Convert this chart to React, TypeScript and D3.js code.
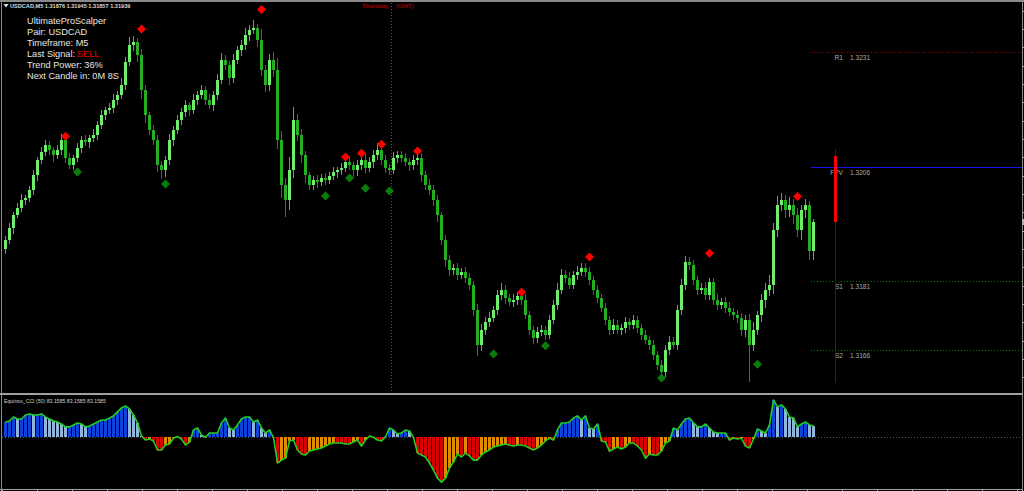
import React from 'react';
import * as d3 from 'd3';

const W = 1024;
const H = 491;

const headerText = 'USDCAD,M5  1.31876 1.31945 1.31857 1.31939';
const infoLines = ['UltimateProScalper', 'Pair: USDCAD', 'Timeframe: M5', 'Last Signal:', 'Trend Power: 36%', 'Next Candle in: 0M 8S'];
const lastSignal = 'SELL';
const dayLabel = 'Thursday';
const tzLabel = '(GMT)';
const cciLabel = 'Equinox_CCI (50) 83.1585 83.1585 83.1585';

const firstOpen = 1.3188;
const closes = [
  1.31900, 1.31926, 1.31954, 1.31970, 1.31987, 1.31991, 1.32009, 1.32041, 1.32074, 1.32092,
  1.32107, 1.32096, 1.32085, 1.32096, 1.32118, 1.32079, 1.32063, 1.32079, 1.32100, 1.32118,
  1.32113, 1.32122, 1.32129, 1.32150, 1.32172, 1.32183, 1.32188, 1.32205, 1.32216, 1.32238,
  1.32288, 1.32325, 1.32331, 1.32303, 1.32227, 1.32172, 1.32140, 1.32118, 1.32063, 1.32052,
  1.32074, 1.32118, 1.32140, 1.32161, 1.32179, 1.32194, 1.32183, 1.32205, 1.32216, 1.32227,
  1.32205, 1.32194, 1.32216, 1.32249, 1.32292, 1.32281, 1.32253, 1.32292, 1.32314, 1.32325,
  1.32347, 1.32358, 1.32362, 1.32336, 1.32270, 1.32238, 1.32292, 1.32270, 1.32118, 1.32020,
  1.31987, 1.32052, 1.32161, 1.32129, 1.32085, 1.32041, 1.32020, 1.32031, 1.32026, 1.32035,
  1.32031, 1.32039, 1.32048, 1.32052, 1.32057, 1.32070, 1.32063, 1.32052, 1.32063, 1.32074,
  1.32057, 1.32070, 1.32085, 1.32096, 1.32074, 1.32057, 1.32052, 1.32079, 1.32085, 1.32079,
  1.32070, 1.32063, 1.32074, 1.32079, 1.32041, 1.32020, 1.32009, 1.31987, 1.31954, 1.31900,
  1.31856, 1.31834, 1.31839, 1.31824, 1.31830, 1.31817, 1.31802, 1.31747, 1.31671, 1.31704,
  1.31721, 1.31730, 1.31747, 1.31780, 1.31791, 1.31773, 1.31765, 1.31769, 1.31778, 1.31769,
  1.31736, 1.31704, 1.31686, 1.31699, 1.31704, 1.31693, 1.31725, 1.31758, 1.31791, 1.31824,
  1.31817, 1.31802, 1.31824, 1.31830, 1.31839, 1.31830, 1.31813, 1.31791, 1.31773, 1.31752,
  1.31725, 1.31704, 1.31715, 1.31704, 1.31708, 1.31721, 1.31715, 1.31725, 1.31708, 1.31693,
  1.31682, 1.31671, 1.31649, 1.31627, 1.31612, 1.31660, 1.31677, 1.31671, 1.31747, 1.31802,
  1.31852, 1.31845, 1.31813, 1.31791, 1.31795, 1.31780, 1.31808, 1.31769, 1.31758, 1.31765,
  1.31752, 1.31743, 1.31736, 1.31730, 1.31704, 1.31725, 1.31671, 1.31704, 1.31736, 1.31769,
  1.31791, 1.31802, 1.31922, 1.31976, 1.31987, 1.31965, 1.31976, 1.31954, 1.31922, 1.31965,
  1.31976, 1.31876, 1.31939,
];

// wick lengths in points (0.00001)
const wickUp = [
  8, 12, 6, 10, 14, 7, 9, 12, 8, 10,
  12, 9, 6, 11, 14, 8, 10, 7, 12, 9,
  11, 7, 13, 9, 12, 8, 10, 14, 9, 16,
  12, 18, 15, 10, 14, 12, 8, 10, 12, 9,
  10, 14, 8, 12, 9, 11, 8, 13, 10, 12,
  9, 14, 10, 12, 16, 11, 9, 14, 10, 12,
  15, 12, 18, 10, 24, 12, 14, 18, 28, 20,
  16, 30, 28, 14, 12, 10, 8, 9, 11, 8,
  10, 9, 12, 8, 11, 14, 10, 9, 12, 11,
  14, 10, 12, 16, 9, 11, 8, 12, 10, 8,
  11, 9, 12, 8, 10, 9, 12, 10, 11, 8,
  10, 12, 9, 11, 8, 12, 10, 9, 14, 12,
  10, 12, 9, 11, 14, 10, 8, 12, 9, 11,
  12, 9, 8, 11, 10, 9, 12, 10, 14, 12,
  10, 12, 9, 14, 11, 10, 12, 9, 10, 8,
  11, 9, 12, 10, 8, 11, 9, 12, 10, 9,
  10, 8, 11, 9, 12, 10, 14, 12, 10, 12,
  14, 10, 12, 9, 11, 14, 10, 9, 12, 8,
  10, 12, 9, 11, 10, 12, 14, 18, 10, 12,
  16, 22, 14, 20, 16, 12, 18, 14, 16, 12,
  14, 10, 6,
];
const wickDn = [
  10, 8, 12, 7, 9, 11, 8, 10, 12, 9,
  8, 11, 14, 9, 10, 12, 9, 11, 8, 10,
  9, 12, 8, 10, 9, 11, 8, 12, 10, 9,
  11, 9, 12, 14, 20, 16, 12, 10, 15, 20,
  14, 10, 12, 9, 11, 10, 12, 9, 10, 8,
  11, 9, 12, 10, 8, 11, 14, 10, 9, 12,
  10, 12, 9, 14, 12, 16, 12, 14, 20, 28,
  37, 22, 16, 14, 18, 16, 12, 10, 12, 9,
  11, 10, 9, 12, 10, 8, 11, 14, 12, 10,
  12, 9, 14, 10, 11, 12, 10, 9, 12, 10,
  9, 12, 10, 11, 14, 12, 10, 12, 14, 12,
  14, 12, 10, 12, 9, 11, 12, 14, 25, 14,
  12, 10, 9, 11, 10, 12, 9, 11, 10, 12,
  9, 11, 12, 10, 9, 12, 10, 9, 11, 10,
  12, 9, 10, 12, 9, 10, 11, 12, 10, 9,
  11, 12, 10, 9, 11, 10, 12, 9, 11, 12,
  10, 12, 11, 10, 6, 12, 10, 9, 11, 10,
  12, 10, 11, 12, 9, 10, 12, 10, 11, 9,
  12, 10, 11, 12, 14, 16, 80, 14, 12, 16,
  18, 14, 20, 16, 12, 18, 14, 20, 16, 22,
  18, 20, 19,
];

const cci = [
  113, 121, 151, 136, 136, 166, 174, 166, 166, 174,
  151, 136, 121, 113, 98, 76, 76, 91, 106, 98,
  76, 83, 98, 113, 128, 128, 143, 159, 189, 219,
  234, 211, 166, 106, 8, -23, -15, -30, -98, -98,
  -60, -53, -8, 3, -15, -60, -38, 53, 68, 15,
  -2, 30, 30, 30, 106, 143, 68, 53, 91, 136,
  151, 151, 113, 128, 68, 30, 53, -4, -196, -174,
  -159, -30, -23, -98, -128, -136, -106, -98, -91, -83,
  -68, -53, -45, -45, -45, -53, -53, -38, -23, -68,
  -23, 8, -2, -23, -30, 2, 68, 53, 23, 30,
  53, 45, -3, -121, -136, -151, -196, -249, -310, -340,
  -310, -234, -189, -128, -151, -121, -143, -174, -174, -136,
  -113, -98, -76, -68, -60, -53, -60, -68, -60, -60,
  -68, -83, -98, -83, -60, -30, -8, -23, 53, 106,
  106, 113, 143, 159, 128, 159, 68, 60, 98, -30,
  -38, -106, -91, -76, -91, -76, -45, -45, -68, -98,
  -159, -128, -136, -136, -106, -45, -30, 68, 53, 98,
  136, 143, 106, 76, 76, 98, 68, 38, 30, 30,
  30, -23, -8, -15, -8, -68, -83, -15, 60, 45,
  30, 91, 279, 227, 242, 211, 151, 143, 76, 98,
  113, 91, 83.1585,
];

const sellIdx = [15, 34, 64, 85, 89, 94, 103, 129, 146, 176, 198];
const sellPrice = [1.32126, 1.3236, 1.32403, 1.32081, 1.32089, 1.32109, 1.32094, 1.31786, 1.31863, 1.31871, 1.31995];
const buyIdx = [18, 40, 80, 86, 90, 96, 122, 135, 164, 188];
const buyPrice = [1.32048, 1.32022, 1.31996, 1.32035, 1.32013, 1.32007, 1.31651, 1.31669, 1.31599, 1.31629];

const pivotNames = ['R1', 'FPV', 'S1', 'S2'];
const pivotValues = [1.3231, 1.3206, 1.3181, 1.3166];
const dailyOHLC = [1.32083, 1.32098, 1.31588, 1.31939];
const dayBreakIndex = 96.5;

const FONT = '"Liberation Sans", Arial, sans-serif';

export default function App() {
  const n = closes.length;
  const x = d3.scaleLinear().domain([0, n - 1]).range([5, 813]);
  const y = d3.scaleLinear().domain([1.31566, 1.32417]).range([393, 3]);
  const yc = d3.scaleLinear().domain([-392, 309]).range([489, 396]);

  const candles = closes.map((c, i) => {
    const o = i === 0 ? firstOpen : closes[i - 1];
    const hi = Math.max(o, c) + (wickUp[i] ?? 8) * 1e-5;
    const lo = Math.min(o, c) - (wickDn[i] ?? 8) * 1e-5;
    return { i, o, c, hi, lo, bull: c >= o };
  });

  const xi = (i: number) => Math.round(x(i));
  const zeroY = yc(0);
  const cciLine = d3.line<number>().x((_, i) => xi(i) + 0.5).y((v) => yc(v)).curve(d3.curveLinear);

  const histColor = (v: number, i: number) => {
    const p = i > 0 ? cci[i - 1] : v;
    if (v >= 0) return v >= p ? '#0d43d9' : '#8fb6da';
    return v <= p ? '#d80000' : '#e08c00';
  };

  const pivotStart = Math.round(x(n - 1)) - 2;
  const rightEdge = 1022;
  const pivotStyle = (name: string) => {
    if (name === 'R1') return { color: '#9a0000', dotted: true };
    if (name === 'FPV') return { color: '#1515e8', dotted: false };
    return { color: '#008000', dotted: true };
  };

  const priceTicks = d3.range(1.316, 1.3242, 0.0004);
  const timeTicks = d3.range(2, rightEdge, 35);
  const dx = 835;
  const sepX = Math.round(x(dayBreakIndex));

  const diamond = (cx: number, cy: number, r: number) =>
    `M${cx},${cy - r}L${cx + r},${cy}L${cx},${cy + r}L${cx - r},${cy}Z`;

  return (
    <svg width={W} height={H} style={{ position: 'absolute', left: 0, top: 0, display: 'block', background: '#000' }}>
      <rect x={0} y={0} width={W} height={H} fill="#000" />

      {/* frame */}
      <rect x={0} y={0} width={1024} height={2} fill="#8a8a8a" />
      <rect x={1} y={2} width={1} height={489} fill="#8a8a8a" />
      <rect x={rightEdge} y={2} width={1} height={489} fill="#8a8a8a" />
      <rect x={0} y={393} width={rightEdge} height={2} fill="#a0a0a0" />
      <rect x={0} y={489} width={rightEdge} height={1} fill="#a0a0a0" />
      {timeTicks.map((t) => (
        <rect key={'tt' + t} x={t} y={489} width={1} height={2} fill="#a0a0a0" />
      ))}
      {priceTicks.map((p) => (
        <rect key={'pt' + p} x={rightEdge} y={Math.round(y(p))} width={2} height={1} fill="#a0a0a0" />
      ))}
      <rect x={rightEdge} y={Math.round(y(closes[n - 1])) - 3} width={2} height={6} fill="#b0b0b0" />

      {/* day separator */}
      <line x1={sepX + 0.5} y1={3} x2={sepX + 0.5} y2={393} stroke="#5e5e2c" strokeDasharray="1,2" />
      <text x={sepX - 3} y={8} fill="#d00000" fontSize={6.2} fontFamily={FONT} textAnchor="end">{dayLabel}</text>
      <text x={sepX + 5} y={8} fill="#d00000" fontSize={6.2} fontFamily={FONT}>{tzLabel}</text>

      {/* pivot lines */}
      {pivotNames.map((name, k) => {
        const st = pivotStyle(name);
        const py = Math.round(y(pivotValues[k]));
        return (
          <g key={name}>
            {st.dotted ? (
              d3.range(pivotStart, rightEdge, 3).map((px) => (
                <rect key={name + px} x={px} y={py} width={1} height={1} fill={st.color} />
              ))
            ) : (
              <rect x={pivotStart} y={py} width={rightEdge - pivotStart} height={1} fill={st.color} />
            )}
            <text x={843} y={py + 7.5} fill="#a8a8a8" fontSize={6.6} fontFamily={FONT} textAnchor="end">{name}</text>
            <text x={850} y={py + 7.5} fill="#a8a8a8" fontSize={6.6} fontFamily={FONT}>{pivotValues[k].toFixed(4)}</text>
          </g>
        );
      })}

      {/* daily candle */}
      <rect x={dx} y={Math.round(y(dailyOHLC[1]))} width={1} height={Math.round(y(dailyOHLC[2]) - y(dailyOHLC[1]))} fill="#800000" />
      <rect x={dx - 1} y={Math.round(y(dailyOHLC[0]))} width={3} height={Math.round(y(dailyOHLC[3]) - y(dailyOHLC[0]))} fill="#ff0000" />

      {/* candles */}
      {candles.map((d) => {
        const cx = xi(d.i);
        const body = d.bull ? '#6cf06c' : '#22b022';
        const wick = d.bull ? '#2fc82f' : '#128f12';
        const top = Math.round(y(Math.max(d.o, d.c)));
        const bot = Math.round(y(Math.min(d.o, d.c)));
        const hy = Math.round(y(d.hi));
        const ly = Math.round(y(d.lo));
        return (
          <g key={'c' + d.i}>
            <rect x={cx} y={hy} width={1} height={Math.max(1, ly - hy)} fill={wick} />
            <rect x={cx - 1} y={top} width={3} height={Math.max(1, bot - top)} fill={body} />
          </g>
        );
      })}

      {/* signals */}
      {sellIdx.map((idx, k) => (
        <path key={'s' + k} d={diamond(xi(idx) + 0.5, y(sellPrice[k]), 4.5)} fill="#ff0000" />
      ))}
      {buyIdx.map((idx, k) => (
        <path key={'b' + k} d={diamond(xi(idx) + 0.5, y(buyPrice[k]), 4.5)} fill="#0a7d0a" />
      ))}

      {/* header */}
      <path d="M3.5,4 L8.5,4 L6,7.5 Z" fill="#e0e0e0" />
      <text x={10} y={8} fill="#d8d8d8" fontSize={5.6} fontFamily={FONT} fontWeight="bold">{headerText}</text>

      {/* info panel */}
      {infoLines.map((t, k) => (
        <text key={'i' + k} x={27} y={24 + k * 10.9} fill="#e6e6e6" fontSize={9.2} fontFamily={FONT}>{t}</text>
      ))}
      <text x={77} y={24 + 3 * 10.9} fill="#e00000" fontSize={9.2} fontFamily={FONT}>{lastSignal}</text>

      {/* CCI panel */}
      {d3.range(2, rightEdge, 3).map((px) => (
        <rect key={'z' + px} x={px} y={Math.round(zeroY)} width={1} height={1} fill="#5a5a5a" />
      ))}
      {cci.map((v, i) => {
        const y0 = zeroY;
        const y1 = yc(v);
        return (
          <rect key={'h' + i} x={xi(i) - 1} y={Math.min(y0, y1)} width={3} height={Math.max(0.5, Math.abs(y1 - y0))} fill={histColor(v, i)} />
        );
      })}
      <path d={cciLine(cci) || ''} fill="none" stroke="#20d020" strokeWidth={1.6} strokeLinejoin="round" />
      <text x={4} y={402.5} fill="#d0d0d0" fontSize={5.2} fontFamily={FONT}>{cciLabel}</text>
    </svg>
  );
}
